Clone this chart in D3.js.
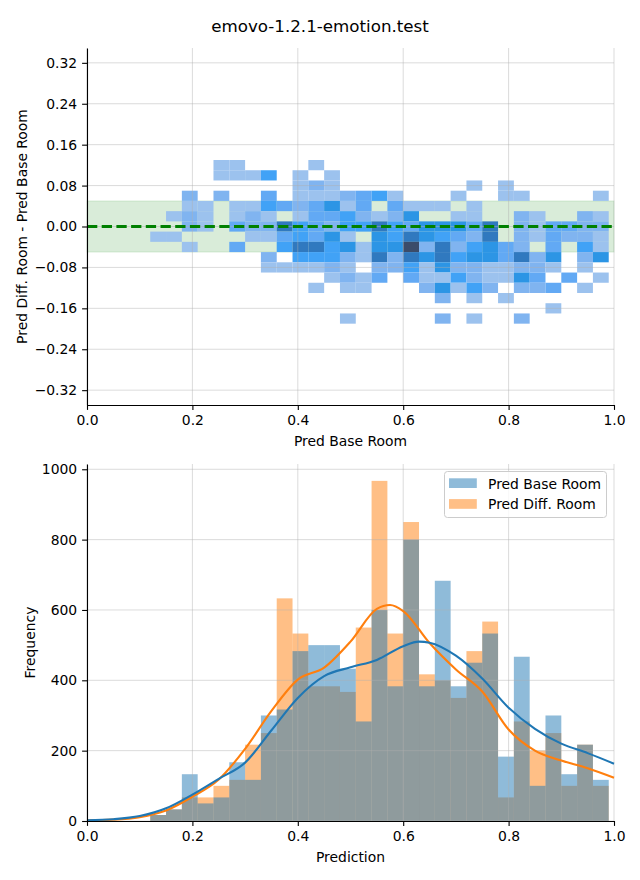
<!DOCTYPE html>
<html><head><meta charset="utf-8">
<script src="https://cdn.jsdelivr.net/npm/d3@7"></script>
<style>body{margin:0;background:#fff} text{font-family:"DejaVu Sans",sans-serif}</style>
</head><body><svg id="c" width="640" height="880"></svg>
<script>
// ---------------- data ----------------
const title = "emovo-1.2.1-emotion.test";
const seriesNames = ["Pred Base Room", "Pred Diff. Room"];
const binEdges = [0.12,0.15,0.18,0.21,0.24,0.27,0.30,0.33,0.36,0.39,0.42,0.45,0.48,0.51,0.54,0.57,0.60,0.63,0.66,0.69,0.72,0.75,0.78,0.81,0.84,0.87,0.90,0.93,0.96,0.99];
const baseCounts = [17,33,133,50,67,167,117,300,317,483,500,500,433,283,600,383,800,383,683,383,450,533,183,467,100,300,133,217,117];
const diffCounts = [17,33,67,67,100,117,217,250,633,533,383,383,367,550,967,533,850,417,400,350,483,567,67,283,200,250,100,217,100];
const kdeBaseX = [0,0.05,0.1,0.15,0.2,0.25,0.3,0.35,0.4,0.45,0.5,0.55,0.6,0.63,0.65,0.7,0.75,0.8,0.85,0.9,0.95,1.0];
const kdeBaseY = [2,5,14,36,75,120,166,258,350,412,437,458,497,510,507,470,405,322,262,220,193,163];
const kdeDiffX = [0,0.05,0.1,0.15,0.2,0.25,0.3,0.35,0.4,0.45,0.5,0.55,0.575,0.6,0.65,0.7,0.75,0.8,0.85,0.9,0.95,1.0];
const kdeDiffY = [2,4,11,30,69,118,205,313,402,436,510,603,614,597,506,431,368,260,200,172,150,123];
// 2D histogram: y-bin edges (top to bottom) and counts per row (x bins = binEdges)
const diffEdges = [0.13,0.11,0.09,0.07,0.05,0.03,0.01,-0.01,-0.03,-0.05,-0.07,-0.09,-0.11,-0.13,-0.15,-0.17,-0.19];
const heatCounts = [
 [0,0,0,0,1,1,0,0,0,0,1,0,0,0,0,0,0,0,0,0,0,0,0,0,0,0,0,0,0],
 [0,0,0,0,1,1,1,4,0,1,0,1,0,0,0,0,0,0,0,0,0,0,0,0,0,0,0,0,0],
 [0,0,0,0,0,0,0,0,0,1,2,1,0,0,0,0,0,0,0,0,1,0,1,0,0,0,0,0,0],
 [0,0,2,0,2,0,0,3,0,1,1,1,2,3,4,1,0,0,0,1,0,0,1,1,0,0,0,0,1],
 [0,0,1,1,0,1,1,4,3,2,3,5,1,3,0,3,1,1,1,0,1,0,0,0,0,0,0,0,0],
 [0,1,2,1,0,1,2,1,0,1,3,3,4,2,1,2,5,0,0,1,1,0,0,2,1,0,0,2,1],
 [0,0,2,1,0,3,2,2,6,4,3,2,4,4,6,4,3,5,5,5,3,6,0,2,1,3,3,2,2],
 [1,1,0,0,0,0,1,1,3,4,3,5,1,0,5,4,6,5,4,3,2,6,0,2,1,3,2,2,1],
 [0,0,1,0,0,3,0,0,4,6,6,4,5,1,5,5,7,2,6,2,4,5,3,2,0,3,0,4,1],
 [0,0,0,0,0,0,0,2,0,4,4,4,2,1,6,2,6,5,6,4,5,5,3,6,2,5,0,2,5],
 [0,0,0,0,0,0,0,1,1,1,1,2,1,0,2,2,4,1,5,2,2,1,1,2,2,1,0,1,0],
 [0,0,0,0,0,0,0,0,0,0,0,1,2,1,3,0,3,1,1,4,2,1,1,5,3,0,3,0,1],
 [0,0,0,0,0,0,0,0,0,0,1,0,1,1,0,0,0,2,5,1,4,2,0,2,2,3,0,1,0],
 [0,0,0,0,0,0,0,0,0,0,0,0,0,0,0,0,0,0,2,0,1,0,1,0,0,0,0,0,0],
 [0,0,0,0,0,0,0,0,0,0,0,0,0,0,0,0,0,0,0,0,0,0,0,0,0,1,0,0,0],
 [0,0,0,0,0,0,0,0,0,0,0,0,1,0,0,0,0,0,2,0,1,0,0,2,0,0,0,0,0]
];
const xTicks = [0,0.2,0.4,0.6,0.8,1.0];
const diffTicks = [-0.32,-0.24,-0.16,-0.08,0,0.08,0.16,0.24,0.32];
const freqTicks = [0,200,400,600,800,1000];
const tolerance = 0.05;

// ---------------- drawing ----------------
const svg = d3.select("#c");
const FS = 13.9;
const gridColor = "#b0b0b0", gridOp = 0.45;

svg.append("text").attr("x",320).attr("y",32).attr("text-anchor","middle")
  .attr("font-size",16.7).text(title);

// ===== top: 2D histogram =====
const T = {l:87, r:614, t:48, b:405};
const xT = d3.scaleLinear().domain([0,1]).range([T.l,T.r]);
const yT = d3.scaleLinear().domain([-0.349,0.349]).range([T.b,T.t]);
const gT = svg.append("g");
gT.append("rect").attr("x",xT(0)).attr("width",xT(1)-xT(0))
  .attr("y",yT(tolerance)).attr("height",yT(-tolerance)-yT(tolerance))
  .attr("fill","green").attr("fill-opacity",0.15)
  .attr("stroke","green").attr("stroke-opacity",0.12).attr("stroke-width",1);
const heatColor = d3.scaleLinear().domain([1,2,3,4,5,6,7])
  .range(["#9cc2ee","#80b4f0","#62a9f4","#41a2f6","#2c95e5","#3079bf","#3b4c6a"]);
const cells = [];
heatCounts.forEach((row,j)=>row.forEach((c,i)=>{ if(c>0) cells.push({i,j,c}); }));
gT.selectAll("rect.cell").data(cells).join("rect").attr("class","cell")
  .attr("x",d=>xT(binEdges[d.i])).attr("width",d=>xT(binEdges[d.i+1])-xT(binEdges[d.i]))
  .attr("y",d=>yT(diffEdges[d.j])).attr("height",d=>yT(diffEdges[d.j+1])-yT(diffEdges[d.j]))
  .attr("fill",d=>heatColor(d.c));
// grid
gT.selectAll("line.gx").data(xTicks).join("line").attr("x1",d=>xT(d)).attr("x2",d=>xT(d))
  .attr("y1",T.t).attr("y2",T.b).attr("stroke",gridColor).attr("stroke-opacity",gridOp).attr("stroke-width",1);
gT.selectAll("line.gy").data(diffTicks).join("line").attr("y1",d=>yT(d)).attr("y2",d=>yT(d))
  .attr("x1",T.l).attr("x2",T.r).attr("stroke",gridColor).attr("stroke-opacity",gridOp).attr("stroke-width",1);
// zero line
gT.append("line").attr("x1",xT(0)).attr("x2",xT(1)).attr("y1",yT(0)).attr("y2",yT(0))
  .attr("stroke","green").attr("stroke-width",2.8).attr("stroke-dasharray","10.3,4.4");

function styleAxis(g){
  g.attr("font-size",FS).attr("font-family","DejaVu Sans");
  g.selectAll("path.domain").attr("stroke","#000").attr("stroke-width",1.1);
  g.selectAll(".tick line").attr("stroke","#000").attr("stroke-width",1.1);
  g.selectAll(".tick text").attr("fill","#000");
}
const fmtX = d3.format(".1f"), fmtD = d3.format(".2f");
styleAxis(svg.append("g").attr("transform",`translate(0,${T.b})`)
  .call(d3.axisBottom(xT).tickValues(xTicks).tickFormat(fmtX).tickSize(4.9).tickPadding(4.9).tickSizeOuter(0)));
styleAxis(svg.append("g").attr("transform",`translate(${T.l},0)`)
  .call(d3.axisLeft(yT).tickValues(diffTicks).tickFormat(fmtD).tickSize(4.9).tickPadding(4.9).tickSizeOuter(0)));
svg.append("text").attr("x",(T.l+T.r)/2).attr("y",446).attr("text-anchor","middle").attr("font-size",FS).text("Pred Base Room");
svg.append("text").attr("transform",`translate(22,${(T.t+T.b)/2}) rotate(-90)`).attr("text-anchor","middle")
  .attr("dominant-baseline","central").attr("font-size",FS).text("Pred Diff. Room - Pred Base Room");

// ===== bottom: histograms =====
const B = {l:87, r:614, t:464, b:821};
const xB = d3.scaleLinear().domain([0,1]).range([B.l,B.r]);
const yB = d3.scaleLinear().domain([0,1015]).range([B.b,B.t]);
const gB = svg.append("g");
const colors = ["#1f77b4","#ff7f0e"];
const bars = (counts,color)=> gB.append("g").selectAll("rect").data(counts).join("rect")
  .attr("x",(d,i)=>xB(binEdges[i])).attr("width",(d,i)=>xB(binEdges[i+1])-xB(binEdges[i]))
  .attr("y",d=>yB(d)).attr("height",d=>yB(0)-yB(d))
  .attr("fill",color).attr("fill-opacity",0.5);
bars(diffCounts,colors[1]);
bars(baseCounts,colors[0]);
gB.selectAll("line.gx").data(xTicks).join("line").attr("x1",d=>xB(d)).attr("x2",d=>xB(d))
  .attr("y1",B.t).attr("y2",B.b).attr("stroke",gridColor).attr("stroke-opacity",gridOp).attr("stroke-width",1);
gB.selectAll("line.gy").data(freqTicks).join("line").attr("y1",d=>yB(d)).attr("y2",d=>yB(d))
  .attr("x1",B.l).attr("x2",B.r).attr("stroke",gridColor).attr("stroke-opacity",gridOp).attr("stroke-width",1);
const line = d3.line().x(d=>xB(d[0])).y(d=>yB(d[1])).curve(d3.curveMonotoneX);
gB.append("path").datum(kdeDiffX.map((x,i)=>[x,kdeDiffY[i]])).attr("d",line)
  .attr("fill","none").attr("stroke",colors[1]).attr("stroke-width",2.1);
gB.append("path").datum(kdeBaseX.map((x,i)=>[x,kdeBaseY[i]])).attr("d",line)
  .attr("fill","none").attr("stroke",colors[0]).attr("stroke-width",2.1);
styleAxis(svg.append("g").attr("transform",`translate(0,${B.b})`)
  .call(d3.axisBottom(xB).tickValues(xTicks).tickFormat(fmtX).tickSize(4.9).tickPadding(4.9).tickSizeOuter(0)));
styleAxis(svg.append("g").attr("transform",`translate(${B.l},0)`)
  .call(d3.axisLeft(yB).tickValues(freqTicks).tickFormat(d3.format("d")).tickSize(4.9).tickPadding(4.9).tickSizeOuter(0)));
svg.append("text").attr("x",(B.l+B.r)/2).attr("y",862).attr("text-anchor","middle").attr("font-size",FS).text("Prediction");
svg.append("text").attr("transform",`translate(30,${(B.t+B.b)/2}) rotate(-90)`).attr("text-anchor","middle")
  .attr("dominant-baseline","central").attr("font-size",FS).text("Frequency");

// legend
const lg = svg.append("g");
lg.append("rect").attr("x",444.5).attr("y",471.5).attr("width",162).attr("height",46).attr("rx",3)
  .attr("fill","#fff").attr("fill-opacity",0.8).attr("stroke","#cccccc").attr("stroke-width",1);
seriesNames.forEach((n,i)=>{
  lg.append("rect").attr("x",449).attr("y",478.3+i*20.8).attr("width",27.8).attr("height",9.7)
    .attr("fill",colors[i]).attr("fill-opacity",0.5);
  lg.append("text").attr("x",488).attr("y",488.5+i*20.8).attr("font-size",FS).text(n);
});
</script></body></html>
